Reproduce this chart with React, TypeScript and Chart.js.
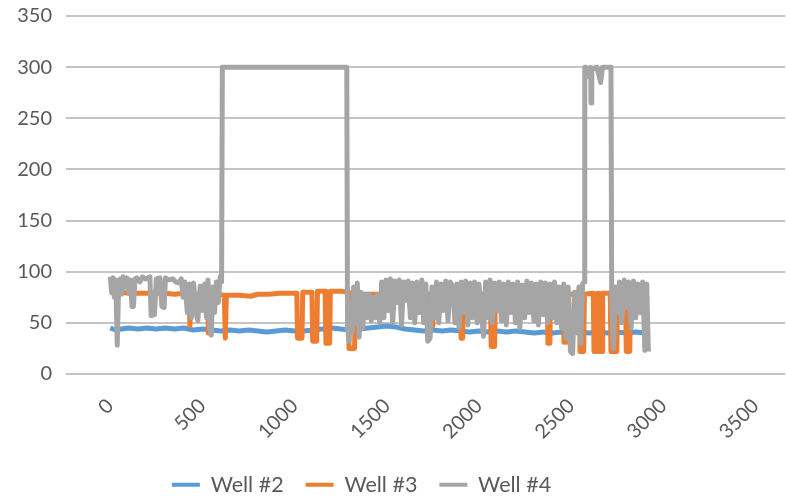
import React, { useEffect, useRef } from "react";
import { Chart, registerables } from "chart.js";

Chart.register(...registerables);

const seriesNames = ["Well #2", "Well #3", "Well #4"];
const seriesColors = ["#5B9BD5", "#ED7D31", "#A5A5A5"];
const xTickValues = [0, 500, 1000, 1500, 2000, 2500, 3000, 3500];
const yTickValues = [0, 50, 100, 150, 200, 250, 300, 350];

const well2Points: [number, number][] = [
  [0, 45], [30, 43], [60, 44], [100, 45], [150, 44], [200, 45], [250, 44], [300, 45], [350, 44], [400, 45],
  [450, 43], [500, 44], [550, 43], [600, 42], [650, 43], [700, 42], [750, 43], [800, 42], [850, 41], [900, 42],
  [950, 43], [1000, 42], [1050, 42], [1100, 43], [1150, 44], [1200, 45], [1250, 44], [1300, 43], [1350, 44],
  [1400, 45], [1450, 46], [1500, 47], [1550, 46], [1600, 44], [1650, 43], [1700, 42], [1750, 43], [1800, 42],
  [1850, 43], [1900, 42], [1950, 41], [2000, 42], [2050, 41], [2100, 42], [2150, 41], [2200, 42], [2250, 41],
  [2300, 40], [2350, 41], [2400, 40], [2450, 41], [2500, 40], [2550, 41], [2600, 40], [2650, 41], [2700, 40],
  [2750, 41], [2800, 40], [2850, 41], [2903, 40],
];

const well3Points: [number, number][] = [
  [0, 80], [20, 79], [60, 80], [100, 79], [150, 79], [200, 79], [250, 79], [300, 79], [350, 78], [400, 79],
  [428, 79], [432, 47], [438, 79], [480, 78], [528, 78], [532, 40], [537, 78], [580, 78], [619, 77], [624, 35],
  [630, 77], [700, 77], [760, 76], [800, 78], [860, 78], [920, 79], [980, 79], [1012, 79], [1016, 35], [1040, 35],
  [1044, 80], [1094, 80], [1098, 32], [1120, 32], [1124, 81], [1165, 81], [1170, 30], [1190, 30], [1194, 81],
  [1250, 81], [1290, 80], [1295, 25], [1325, 25], [1330, 78], [1400, 78], [1500, 78], [1600, 78], [1700, 78],
  [1728, 78], [1732, 47], [1750, 47], [1754, 78], [1800, 78], [1900, 78], [1903, 35], [1912, 35], [1915, 78],
  [2000, 78], [2062, 78], [2066, 27], [2085, 27], [2089, 78], [2200, 78], [2300, 78], [2371, 78], [2374, 30],
  [2385, 30], [2388, 78], [2458, 78], [2461, 31], [2477, 31], [2480, 78], [2545, 78], [2548, 22], [2568, 22],
  [2572, 78], [2620, 79], [2624, 22], [2640, 22], [2643, 79], [2650, 79], [2653, 22], [2668, 22], [2671, 79],
  [2712, 79], [2716, 22], [2748, 22], [2752, 79], [2795, 79], [2799, 22], [2818, 22], [2822, 79], [2876, 78],
];

const well4Points: [number, number][] = [
  [0, 95], [8, 80], [15, 94], [22, 75], [30, 92], [38, 28], [46, 90], [55, 93], [62, 78], [70, 95], [80, 85],
  [90, 94], [100, 80], [110, 92], [118, 66], [126, 66], [134, 93], [145, 94], [160, 90], [175, 95], [190, 93],
  [205, 94], [215, 95], [222, 57], [240, 58], [250, 93], [270, 94], [280, 66], [292, 65], [300, 94], [320, 92],
  [340, 93], [355, 90], [370, 89], [385, 93], [395, 75], [405, 90], [418, 60], [430, 88], [440, 55], [452, 89],
  [465, 60], [475, 52], [488, 86], [500, 62], [512, 88], [522, 55], [530, 92], [540, 45], [548, 38], [556, 85],
  [566, 60], [576, 90], [586, 70], [596, 95], [604, 90], [608, 300], [700, 300], [800, 300], [900, 300],
  [1000, 300], [1100, 300], [1200, 300], [1283, 300], [1287, 45], [1295, 32], [1303, 70], [1312, 40], [1320, 85],
  [1330, 50], [1340, 89], [1350, 36], [1360, 80], [1370, 45], [1380, 78], [1392, 55], [1404, 78], [1416, 52],
  [1428, 75], [1440, 55], [1450, 78], [1462, 50], [1472, 90], [1484, 55], [1496, 92], [1508, 62], [1520, 93],
  [1532, 50], [1545, 91], [1556, 70], [1568, 92], [1580, 48], [1592, 90], [1604, 72], [1616, 91], [1628, 55],
  [1640, 89], [1652, 50], [1664, 90], [1676, 60], [1690, 92], [1700, 50], [1712, 88], [1722, 32], [1735, 35],
  [1745, 85], [1758, 55], [1770, 90], [1782, 50], [1795, 88], [1808, 62], [1820, 91], [1832, 52], [1845, 90],
  [1858, 85], [1870, 50], [1880, 88], [1892, 45], [1904, 90], [1916, 60], [1928, 91], [1940, 48], [1952, 89],
  [1964, 55], [1976, 90], [1990, 50], [2000, 88], [2012, 60], [2025, 37], [2036, 90], [2048, 55], [2060, 92],
  [2072, 50], [2085, 89], [2098, 62], [2110, 90], [2122, 52], [2135, 88], [2148, 48], [2160, 90], [2172, 60],
  [2185, 88], [2198, 50], [2210, 90], [2222, 45], [2235, 87], [2248, 55], [2260, 91], [2272, 60], [2285, 89],
  [2298, 52], [2310, 88], [2322, 48], [2335, 90], [2348, 58], [2360, 89], [2372, 50], [2385, 88], [2398, 55],
  [2410, 90], [2422, 50], [2435, 85], [2448, 45], [2460, 88], [2472, 35], [2484, 85], [2496, 22], [2508, 20],
  [2518, 80], [2530, 40], [2542, 85], [2552, 30], [2562, 88], [2570, 90], [2574, 300], [2590, 299], [2600, 290],
  [2606, 300], [2608, 265], [2612, 298], [2640, 300], [2660, 285], [2670, 300], [2700, 300], [2716, 300],
  [2720, 75], [2730, 25], [2740, 85], [2752, 60], [2762, 90], [2775, 50], [2788, 92], [2800, 65], [2812, 90],
  [2825, 45], [2838, 91], [2850, 55], [2862, 88], [2875, 60], [2888, 90], [2900, 23], [2910, 88], [2919, 22],
];

const FONT = "Lato, 'Open Sans', sans-serif";
const TEXT_COLOR = "#595959";
const TICK_SIZE = 20;
const LEGEND_SIZE = 21.5;
const LEGEND_DX = -31;
const LEGEND_DY = 6;

const legendShift = {
  id: "legendShift",
  afterLayout(chart: any) {
    const lg = chart.legend;
    if (!lg) return;
    lg.left += LEGEND_DX;
    lg.right += LEGEND_DX;
    lg.top += LEGEND_DY;
    lg.bottom += LEGEND_DY;
  },
};

export default function App() {
  const ref = useRef<HTMLCanvasElement>(null);

  useEffect(() => {
    const toPts = (pts: [number, number][]) => pts.map(([x, y]) => ({ x, y }));
    const all = [well2Points, well3Points, well4Points];
    const chart = new Chart(ref.current!, {
      type: "line",
      data: {
        datasets: all.map((pts, i) => ({
          label: seriesNames[i],
          data: toPts(pts),
          borderColor: seriesColors[i],
          backgroundColor: seriesColors[i],
          borderWidth: 5,
          pointRadius: 0,
          tension: 0,
          fill: false,
          order: 3 - i,
          borderJoinStyle: "round" as const,
        })),
      },
      options: {
        animation: false,
        responsive: false,
        devicePixelRatio: 1,
        layout: { padding: { top: 16, left: 0, right: 2, bottom: -2.5 } },
        plugins: {
          tooltip: { enabled: false },
          legend: {
            position: "bottom",
            labels: {
              boxWidth: 28,
              boxHeight: 4,
              padding: 22,
              color: TEXT_COLOR,
              font: { family: FONT, size: LEGEND_SIZE },
              sort: (a: any, b: any) => a.datasetIndex - b.datasetIndex,
              generateLabels: (c: any) =>
                (Chart.defaults.plugins.legend.labels.generateLabels as any)(c).map((l: any) => ({
                  ...l,
                  lineWidth: 0,
                  fillStyle: seriesColors[l.datasetIndex],
                })),
            },
          },
        },
        scales: {
          x: {
            type: "linear",
            min: -240,
            max: 3660,
            grid: { display: false },
            border: { display: false },
            afterBuildTicks: (s: any) => {
              s.ticks = xTickValues.map((v) => ({ value: v }));
            },
            afterFit: (s: any) => {
              s.height = 72;
              s.paddingLeft = 0;
              s.paddingRight = 0;
            },
            ticks: {
              autoSkip: false,
              minRotation: 45,
              maxRotation: 45,
              padding: 12,
              color: TEXT_COLOR,
              font: { family: FONT, size: TICK_SIZE },
              callback: (v: any) => String(v),
            },
          },
          y: {
            min: 0,
            max: 350,
            afterBuildTicks: (s: any) => {
              s.ticks = yTickValues.map((v) => ({ value: v }));
            },
            afterFit: (s: any) => {
              s.width = 66;
              s.paddingTop = 0;
              s.paddingBottom = 0;
            },
            grid: { color: "#c4c4c4", lineWidth: 2, drawTicks: false },
            border: { display: false },
            ticks: {
              padding: 14,
              color: TEXT_COLOR,
              font: { family: FONT, size: TICK_SIZE },
              callback: (v: any) => String(v),
            },
          },
        },
      },
      plugins: [legendShift],
    });
    return () => chart.destroy();
  }, []);

  return (
    <div style={{ position: "absolute", left: 0, top: 0, width: 787, height: 497, background: "#fff" }}>
      <canvas ref={ref} width={787} height={497} style={{ display: "block" }} />
    </div>
  );
}
